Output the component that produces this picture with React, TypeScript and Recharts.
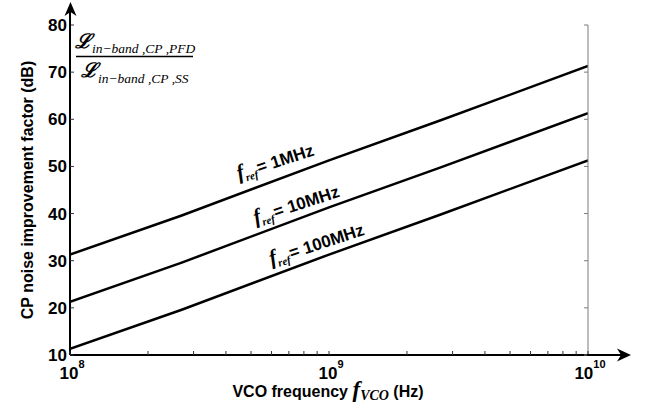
import React from 'react';
import { LineChart, Line, XAxis, YAxis, ReferenceDot } from 'recharts';

// ---- data ----
const vcoFreq = [1e8, 2.7e8, 1e9, 2.7e9, 1e10];
const fref1MHz = [31.3, 39.6, 51.3, 59.8, 71.3];
const fref10MHz = [21.3, 29.6, 41.3, 49.8, 61.3];
const fref100MHz = [11.3, 19.6, 31.3, 39.8, 51.3];

const yTicks = [10, 20, 30, 40, 50, 60, 70, 80];
const xMajorTicks = [1e8, 1e9, 1e10];
const xMajorExponents = ['8', '9', '10'];
const xMinorTicks = [2e8, 3e8, 4e8, 5e8, 6e8, 7e8, 8e8, 9e8, 2e9, 3e9, 4e9, 5e9, 6e9, 7e9, 8e9, 9e9];

const seriesNames = ['1MHz', '10MHz', '100MHz'];
const labelAnchorFreq = [6.3e8, 7.6e8, 9.1e8];
const labelAnchorValue = [49.8, 40.7, 32.3];

const data = vcoFreq.map((f, i) => ({
  f,
  a: fref1MHz[i],
  b: fref10MHz[i],
  c: fref100MHz[i],
}));

const allXTicks = [...xMajorTicks, ...xMinorTicks].sort((p, q) => p - q);

const SANS = '"Liberation Sans", Arial, sans-serif';
const SERIF = '"Liberation Serif", "Times New Roman", serif';
const GRAY = '#7a7a7a';

const BottomTick = (props: any) => {
  const { x, y, payload } = props;
  const idx = xMajorTicks.indexOf(payload.value);
  return (
    <g>
      <line x1={x} y1={y} x2={x} y2={y - 4} stroke="#333" strokeWidth={1} />
      {idx >= 0 && (
        <text x={x + 2} y={y + 24} textAnchor="middle" fontFamily={SANS} fontWeight="bold" fontSize={17} fill="#000">
          10
          <tspan dy={-11} fontSize={11}>{xMajorExponents[idx]}</tspan>
        </text>
      )}
    </g>
  );
};

const TopTick = (props: any) => {
  const { x, y } = props;
  return <line x1={x} y1={y} x2={x} y2={y + 4} stroke={GRAY} strokeWidth={1} />;
};

const LeftTick = (props: any) => {
  const { x, y, payload } = props;
  return (
    <g>
      <line x1={x} y1={y} x2={x + 4} y2={y} stroke="#333" strokeWidth={1} />
      <text x={x - 3} y={y + 6} textAnchor="end" fontFamily={SANS} fontWeight="bold" fontSize={17} fill="#000">
        {payload.value}
      </text>
    </g>
  );
};

const RightTick = (props: any) => {
  const { x, y } = props;
  return <line x1={x} y1={y} x2={x - 4} y2={y} stroke={GRAY} strokeWidth={1} />;
};

const FrefLabel = ({ cx, cy, name }: any) => (
  <text
    x={cx}
    y={cy}
    textAnchor="middle"
    transform={`rotate(-18 ${cx} ${cy})`}
    fill="#000"
  >
    <tspan fontFamily={SERIF} fontStyle="italic" fontWeight="bold" fontSize={21}>f</tspan>
    <tspan fontFamily={SERIF} fontStyle="italic" fontWeight="bold" fontSize={11} dy={4}>ref</tspan>
    <tspan fontFamily={SANS} fontWeight="bold" fontSize={17} dy={-4} dx={1}>{`= ${name}`}</tspan>
  </text>
);

export default function App() {
  return (
    <div style={{ position: 'absolute', left: 0, top: 0, width: 648, height: 409, background: '#fff' }}>
      <LineChart width={648} height={409} data={data} margin={{ top: 25, right: 0, bottom: 0, left: 0 }}>
        <XAxis
          dataKey="f"
          type="number"
          scale="log"
          domain={[1e8, 1e10]}
          allowDataOverflow
          ticks={allXTicks}
          interval={0}
          tick={<BottomTick />}
          tickLine={false}
          tickSize={0}
          tickMargin={0}
          axisLine={{ stroke: '#000', strokeWidth: 2 }}
          height={54}
        />
        <XAxis
          xAxisId="top"
          orientation="top"
          dataKey="f"
          type="number"
          scale="log"
          domain={[1e8, 1e10]}
          allowDataOverflow
          ticks={allXTicks}
          interval={0}
          tick={<TopTick />}
          tickLine={false}
          tickSize={0}
          tickMargin={0}
          axisLine={{ stroke: GRAY, strokeWidth: 1 }}
          height={0}
        />
        <YAxis
          type="number"
          domain={[10, 80]}
          ticks={yTicks}
          interval={0}
          allowDataOverflow
          tick={<LeftTick />}
          tickLine={false}
          tickSize={0}
          tickMargin={0}
          axisLine={{ stroke: '#000', strokeWidth: 2 }}
          width={70}
        />
        <YAxis
          yAxisId="right"
          orientation="right"
          type="number"
          domain={[10, 80]}
          ticks={yTicks}
          interval={0}
          allowDataOverflow
          tick={<RightTick />}
          tickLine={false}
          tickSize={0}
          tickMargin={0}
          axisLine={{ stroke: GRAY, strokeWidth: 1 }}
          width={60}
        />
        <Line dataKey="a" stroke="#000" strokeWidth={2.5} dot={false} isAnimationActive={false} />
        <Line dataKey="b" stroke="#000" strokeWidth={2.5} dot={false} isAnimationActive={false} />
        <Line dataKey="c" stroke="#000" strokeWidth={2.5} dot={false} isAnimationActive={false} />
        {seriesNames.map((name, i) => (
          <ReferenceDot
            key={name}
            x={labelAnchorFreq[i]}
            y={labelAnchorValue[i]}
            r={1}
            ifOverflow="visible"
            shape={(p: any) => <FrefLabel cx={p.cx} cy={p.cy} name={name} />}
          />
        ))}
      </LineChart>
      <svg
        width={648}
        height={409}
        style={{ position: 'absolute', left: 0, top: 0, pointerEvents: 'none' }}
      >
        {/* axis extensions with arrows */}
        <line x1={70} y1={26} x2={70} y2={10} stroke="#000" strokeWidth={2} />
        <polygon points="70.5,2 64.5,16 70.5,12 76.5,16" fill="#000" />
        <line x1={587} y1={355} x2={622} y2={355} stroke="#000" strokeWidth={2} />
        <polygon points="631,355 617,348.5 621,355 617,361.5" fill="#000" />

        {/* ratio annotation */}
        <text x={75} y={48} fontFamily={SERIF} fontStyle="italic" fontWeight="bold" fontSize={20} fill="#000">
          ℒ
        </text>
        <text x={92} y={53} fontFamily={SERIF} fontStyle="italic" fontSize={13.5} fill="#000">
          in−band ,CP ,PFD
        </text>
        <line x1={76} y1={56.5} x2={193} y2={56.5} stroke="#000" strokeWidth={1.5} />
        <text x={81} y={77} fontFamily={SERIF} fontStyle="italic" fontWeight="bold" fontSize={20} fill="#000">
          ℒ
        </text>
        <text x={98} y={83} fontFamily={SERIF} fontStyle="italic" fontSize={13.5} fill="#000">
          in−band ,CP ,SS
        </text>

        {/* axis titles */}
        <text
          x={33}
          y={190}
          textAnchor="middle"
          transform="rotate(-90 33 190)"
          fontFamily={SANS}
          fontWeight="bold"
          fontSize={16}
          fill="#000"
        >
          CP noise improvement factor (dB)
        </text>
        <text x={328} y={397} textAnchor="middle" fill="#000">
          <tspan fontFamily={SANS} fontWeight="bold" fontSize={16}>{'VCO frequency '}</tspan>
          <tspan fontFamily={SERIF} fontStyle="italic" fontWeight="bold" fontSize={23}>f</tspan>
          <tspan fontFamily={SERIF} fontStyle="italic" fontWeight="bold" fontSize={14} dy={3}>VCO</tspan>
          <tspan fontFamily={SANS} fontWeight="bold" fontSize={16} dy={-3}>{' (Hz)'}</tspan>
        </text>
      </svg>
    </div>
  );
}
